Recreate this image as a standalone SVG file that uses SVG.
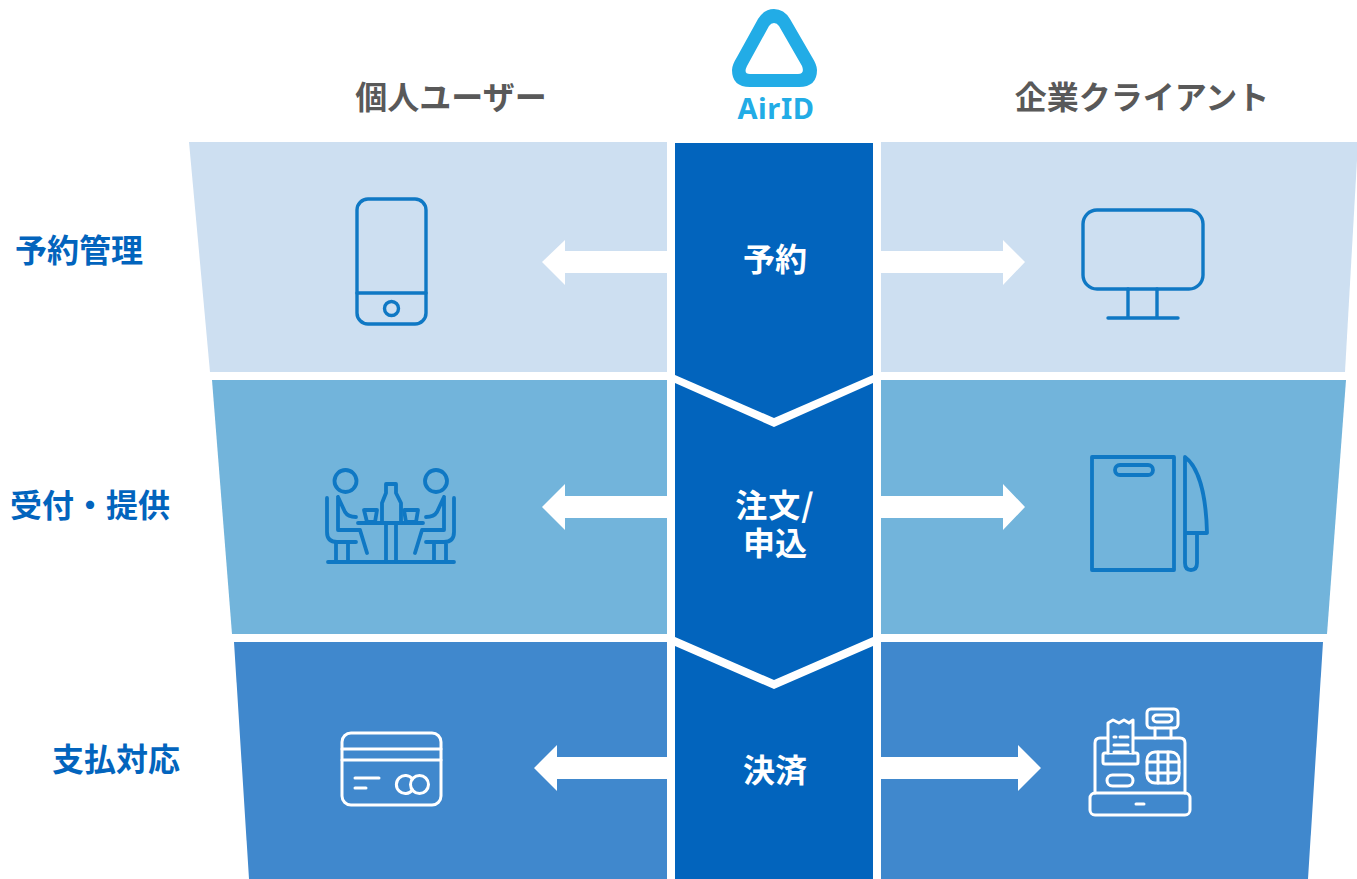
<svg xmlns="http://www.w3.org/2000/svg" width="1357" height="879" viewBox="0 0 1357 879">
<style>
text{font-family:"Noto Sans CJK JP","Noto Sans",sans-serif;font-weight:700}
.h{font-size:32px;fill:#595959;text-anchor:middle}
.l{font-size:32px;fill:#0264bd}
.c{font-size:32px;fill:#fff;text-anchor:middle}
.ib{fill:none;stroke:#0f78c4;stroke-width:3.8;stroke-linecap:round;stroke-linejoin:round}
.iw{fill:none;stroke:#fff;stroke-width:3;stroke-linecap:round;stroke-linejoin:round}
.a{fill:#fff}
</style>
<rect width="1357" height="879" fill="#fff"/>
<g id="bands">
<polygon points="189,142 667,142 667,372 210,372" fill="#cddff1"/>
<polygon points="881,142 1357,142 1357,160 1345,372 881,372" fill="#cddff1"/>
<polygon points="212,380 667,380 667,634 232,634" fill="#72b4db"/>
<polygon points="881,380 1346,380 1327,634 881,634" fill="#72b4db"/>
<polygon points="234,642 667,642 667,879 249,879" fill="#4088cd"/>
<polygon points="881,642 1323,642 1308,879 881,879" fill="#4088cd"/>
</g>
<g id="center">
<polygon points="675,143 873,143 873,375 774,418 675,375" fill="#0264bd"/>
<polygon points="675,383 774,427 873,383 873,637 774,680 675,637" fill="#0264bd"/>
<polygon points="675,646 774,689 873,646 873,879 675,879" fill="#0264bd"/>
<text class="c" x="775" y="271">予約</text>
<text class="c" x="775" y="517" letter-spacing="1"><tspan x="775" y="517">注文/</tspan><tspan x="775" y="555" letter-spacing="0">申込</tspan></text>
<text class="c" x="775" y="782">決済</text>
</g>
<g id="connectors">
<polygon class="a" points="667,251 565,251 565,240 542,262 565,285 565,273 667,273"/>
<polygon class="a" points="881,251 1003,251 1003,240 1025,262 1003,285 1003,273 881,273"/>
<polygon class="a" points="667,496 565,496 565,484 542,507 565,530 565,518 667,518"/>
<polygon class="a" points="881,496 1003,496 1003,484 1025,507 1003,530 1003,518 881,518"/>
<polygon class="a" points="667,757 557,757 557,745 534,768 557,791 557,779 667,779"/>
<polygon class="a" points="881,757 1018,757 1018,745 1041,768 1018,791 1018,779 881,779"/>
</g>
<g id="logo">
<path fill-rule="evenodd" fill="#22ace6" d="M774 9Q784 9 790 19L812 57Q817 65 817 70Q817 87 799 87L750 87Q732 87 732 70Q732 65 737 57L758 19Q764 9 774 9ZM774 23Q771 23 769 26L747 66Q743 74 750 74L798 74Q805 74 802 66L779 26Q777 23 774 23Z"/>
<text x="776" y="119" font-size="29" fill="#22ace6" text-anchor="middle" letter-spacing="0.6" style="font-family:'Noto Sans',sans-serif">AirID</text>
</g>
<g id="col-user"><text class="h" x="451" y="109">個人ユーザー</text></g>
<g id="col-client"><text class="h" x="1142" y="109">企業クライアント</text></g>
<g id="row-1"><text class="l" x="15" y="262">予約管理</text></g>
<g id="row-2"><text class="l" x="10" y="517">受付・提供</text></g>
<g id="row-3"><text class="l" x="52" y="771">支払対応</text></g>
<g id="icon-phone" class="ib" style="stroke-width:3.4">
<rect x="357" y="199" width="69" height="125" rx="11"/><path d="M357 293H426"/><circle cx="391.500" cy="308.500" r="7"/>
</g>
<g id="icon-monitor" class="ib" style="stroke-width:3.4">
<rect x="1083" y="210" width="120" height="79" rx="14"/><path d="M1128 289V318M1157 289V318M1108 318H1178"/>
</g>
<g id="icon-diners" class="ib">
<circle cx="345.500" cy="481" r="11"/><circle cx="436" cy="481" r="11"/>
<path d="M327 498V532Q327 542 337 542H356M338 497V530H360L367 553M338 497L345 512Q348 517 356 517M336 543V561M348 543V561"/>
<path d="M454 498V532Q454 542 444 542H426M444 497V530H422L415 553M444 497L437 512Q434 517 426 517M446 543V561M434 543V561"/>
<path d="M328 562H454M358 523H423"/>
<path d="M386 484H396V493L401 503V523H382V503L386 493ZM386 523V561M396 523V561"/>
<path d="M364 510H377L375 522H367ZM404 510H418L416 522H406Z"/>
</g>
<g id="icon-board" class="ib">
<rect x="1092" y="457" width="82" height="113"/><rect x="1115" y="465" width="38" height="10" rx="5"/>
<path d="M1185 457C1197 466 1206 490 1207 533H1185ZM1185 533V563Q1185 570 1191 570Q1197 570 1197 563V533"/>
</g>
<g id="icon-card" class="iw">
<rect x="342" y="733" width="99" height="72" rx="9"/><path d="M342 749H441M342 760H441M355 778H379M355 788H366"/><path d="M412.500 779A9 9 0 1 0 412.500 790"/><circle cx="419.500" cy="784.500" r="9"/>
</g>
<g id="icon-register" class="iw">
<rect x="1090" y="793" width="100" height="22" rx="5"/><path d="M1095 793V743Q1095 738 1100 738H1108M1133 738H1180Q1185 738 1185 743V793M1136 804H1144"/>
<rect x="1103" y="753" width="35" height="11" rx="2"/>
<path d="M1108 753V723L1113 720 1119 723 1124 720 1129 723 1133 720V753M1114 737H1116M1120 737H1128M1114 745H1128M1114 752H1128" style="fill:#4088cd"/>
<rect x="1147" y="709" width="31" height="19" rx="4"/><rect x="1153" y="715" width="19" height="7" rx="3.500"/><path d="M1155 728V738M1171 728V738"/>
<rect x="1147" y="752" width="32" height="31" rx="8"/><path d="M1158 752V783M1168 752V783M1147 762H1179M1147 773H1179"/>
<rect x="1107" y="775" width="26" height="11" rx="5.500"/>
</g>
</svg>
